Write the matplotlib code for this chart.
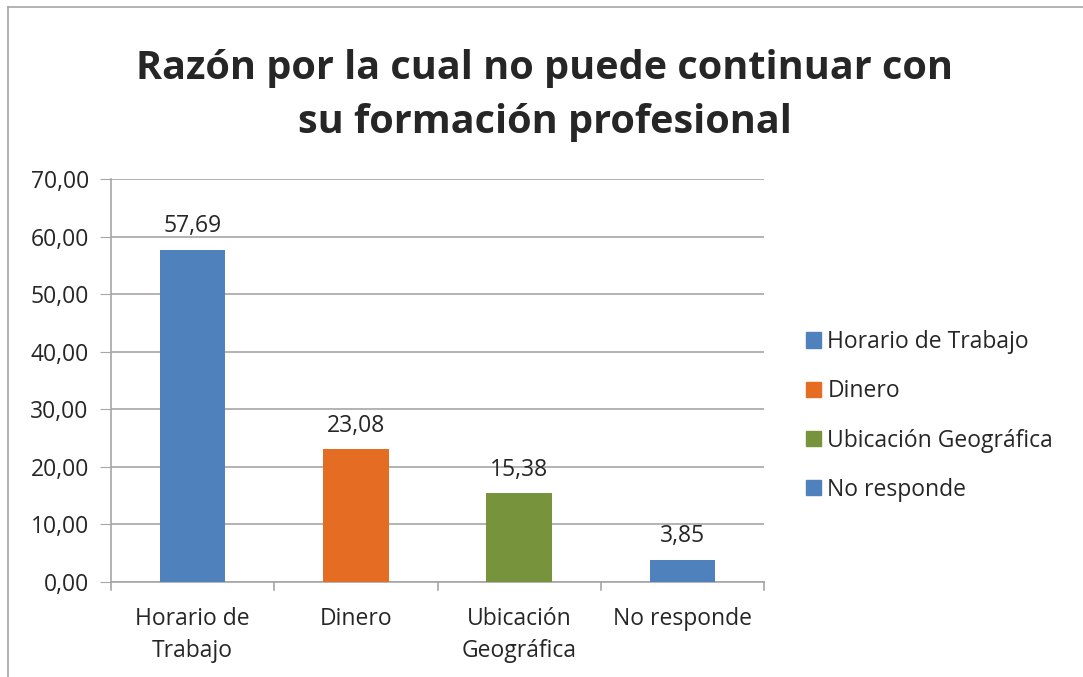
import matplotlib.pyplot as plt
from matplotlib.patches import Patch
from matplotlib.lines import Line2D

categorias = ["Horario de\nTrabajo", "Dinero", "Ubicación\nGeográfica", "No responde"]
leyenda = ["Horario de Trabajo", "Dinero", "Ubicación Geográfica", "No responde"]
valores = [57.69, 23.08, 15.38, 3.85]
colores = ["#4F81BD", "#E46C23", "#77933C", "#4F81BD"]
yticks = [0, 10, 20, 30, 40, 50, 60, 70]

plt.rcParams['font.family'] = ['Open Sans', 'DejaVu Sans']
gris = "#A6A6A6"
fs = 16.5

fig = plt.figure(figsize=(10.83, 6.77), dpi=100)
W, H = 1083, 677
ax = fig.add_axes([111 / W, 1 - 582 / H, (764 - 111) / W, (582 - 179) / H])

x = list(range(len(valores)))
ax.bar(x, valores, width=0.4, color=colores, zorder=3)
for xi, v in zip(x, valores):
    ax.text(xi, v + 2.0, f"{v:.2f}".replace(".", ","), ha="center", va="bottom",
            fontsize=fs, color="#262626")

ax.set_xlim(-0.5, 3.5)
ax.set_ylim(0, 70)
ax.set_yticks(yticks)
ax.set_yticklabels([f"{t:.2f}".replace(".", ",") for t in yticks], fontsize=fs, color="#262626")
ax.set_xticks(x)
ax.set_xticklabels(categorias, fontsize=fs, color="#262626", linespacing=1.45)
ax.tick_params(axis="x", length=0, pad=18)
ax.tick_params(axis="y", length=8, color=gris, pad=8)
# separadores de categoria en el eje x
for b in [-0.5, 0.5, 1.5, 2.5, 3.5]:
    ax.plot([b, b], [0, -0.02], transform=ax.get_xaxis_transform(), color=gris,
            lw=1.2, clip_on=False)
ax.grid(axis="y", color=gris, lw=1.2, zorder=0)
for s in ["top", "right"]:
    ax.spines[s].set_visible(False)
ax.spines["left"].set_color(gris)
ax.spines["bottom"].set_color(gris)
ax.spines["left"].set_linewidth(1.2)
ax.spines["bottom"].set_linewidth(1.2)

fig.text(545 / W, 1 - 95 / H, "Razón por la cual no puede continuar con\nsu formación profesional",
         ha="center", va="center", fontsize=28.5, fontweight="bold", color="#262626",
         linespacing=1.5)

handles = [Patch(color=c) for c in colores]
fig.legend(handles, leyenda, loc="center left", bbox_to_anchor=(785 / W, 1 - 416 / H),
           frameon=False, fontsize=fs, handlelength=0.65, handleheight=0.65,
           handletextpad=0.3, labelspacing=1.1, labelcolor="#262626")

# borde del grafico
fig.add_artist(Line2D([8 / W, 8 / W], [0, 1 - 7 / H], color=gris, lw=1.2))
fig.add_artist(Line2D([8 / W, 1], [1 - 7 / H, 1 - 7 / H], color=gris, lw=1.2))

fig.savefig("out.png", dpi=100)
